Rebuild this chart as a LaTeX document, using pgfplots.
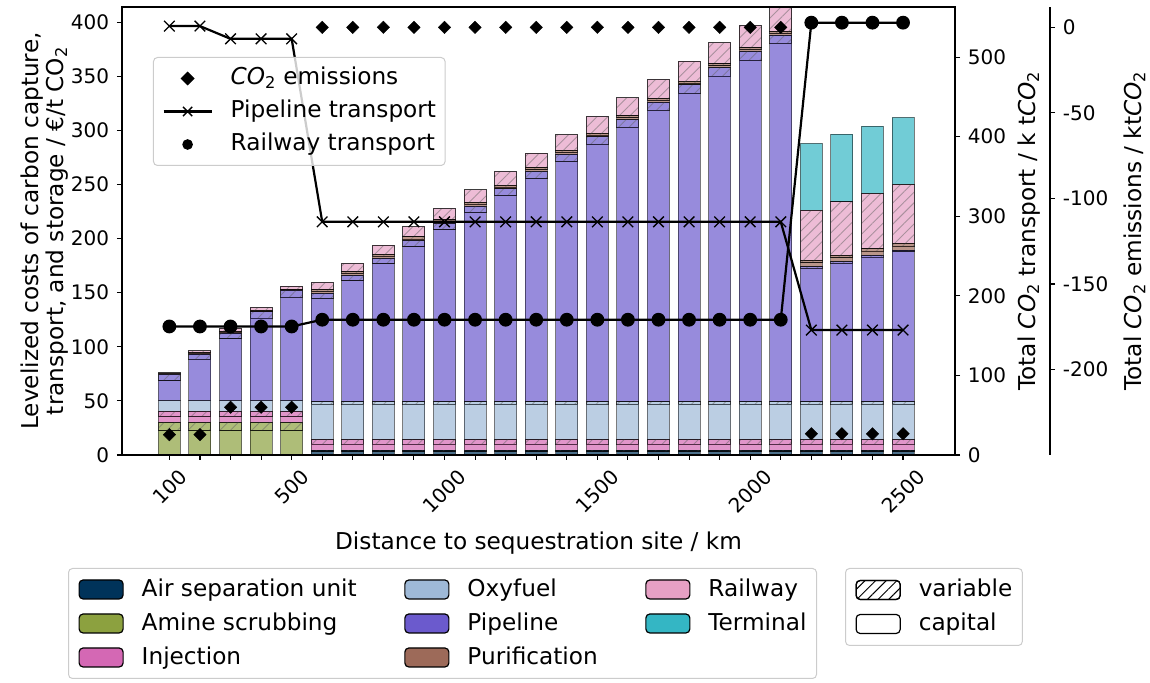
\documentclass[border=0pt]{standalone}
\usepackage{fontspec}
\setmainfont{DejaVu Sans}
\usepackage{graphicx}
\usepackage{pgfplots}
\pgfplotsset{compat=1.18}
\usepackage{pgfplotstable}
\usetikzlibrary{patterns.meta}

\definecolor{asu}{HTML}{00335A}
\definecolor{amine}{HTML}{8CA13F}
\definecolor{injection}{HTML}{D468B4}
\definecolor{oxyfuel}{HTML}{9EB9D7}
\definecolor{pipeline}{HTML}{6B5ACD}
\definecolor{purification}{HTML}{9D6A59}
\definecolor{railway}{HTML}{E6A0C4}
\definecolor{terminal}{HTML}{34B6C4}

\newcommand{\fs}{\fontsize{23.2}{25}\selectfont}
\newcommand{\ft}{\fontsize{20}{24}\selectfont}
\newcommand{\COi}{{\itshape CO}\textsubscript{2}}

\tikzset{hatch/.style={postaction={pattern={Lines[angle=45,distance=7.5pt,line width=0.9pt]},pattern color=black!60}}}

\pgfplotstableread{
x asc asv amc amv inc inv oxc oxv pic piv puc puv rav tec
100 0 0 22.4 7.8 5.2 5.2 9.3 0 18.7 5.9 0.8 0.7 0 0
200 0 0 22.4 7.8 5.2 5.2 9.3 0 38.5 4.9 0.8 0.7 1.5 0
300 0 0 22.4 7.8 5.2 5.2 9.3 0 57.5 5.3 0.8 0.7 2.8 0
400 0 0 22.4 7.8 5.2 5.2 9.3 0 76.5 5.8 0.8 0.7 2.8 0
500 0 0 22.4 7.8 5.2 5.2 9.3 0 95.8 6.4 0.5 0.5 2.9 0
600 3.0 1.5 0 0 5.5 4.5 32.6 2.0 95.5 4.9 1.5 2.0 6.5 0
700 3.0 1.5 0 0 5.5 4.5 32.6 2.0 111.8 5.1 1.5 2.0 7.5 0
800 3.0 1.5 0 0 5.5 4.5 32.6 2.0 127.5 5.4 1.5 2.0 8.5 0
900 3.0 1.5 0 0 5.5 4.5 32.6 2.0 143.3 5.6 1.5 2.0 9.5 0
1000 3.0 1.5 0 0 5.5 4.5 32.6 2.0 159.0 5.9 1.5 2.0 10.5 0
1100 3.0 1.5 0 0 5.5 4.5 32.6 2.0 174.8 6.1 1.5 2.0 11.5 0
1200 3.0 1.5 0 0 5.5 4.5 32.6 2.0 190.5 6.4 1.5 2.0 12.5 0
1300 3.0 1.5 0 0 5.5 4.5 32.6 2.0 206.3 6.6 1.5 2.0 13.5 0
1400 3.0 1.5 0 0 5.5 4.5 32.6 2.0 222.1 6.8 1.5 2.0 14.5 0
1500 3.0 1.5 0 0 5.5 4.5 32.6 2.0 237.9 7.0 1.5 2.0 15.5 0
1600 3.0 1.5 0 0 5.5 4.5 32.6 2.0 253.6 7.3 1.5 2.0 16.5 0
1700 3.0 1.5 0 0 5.5 4.5 32.6 2.0 269.4 7.5 1.5 2.0 17.5 0
1800 3.0 1.5 0 0 5.5 4.5 32.6 2.0 285.1 7.8 1.5 2.0 18.5 0
1900 3.0 1.5 0 0 5.5 4.5 32.6 2.0 300.9 8.0 1.5 2.0 19.5 0
2000 3.0 1.5 0 0 5.5 4.5 32.6 2.0 315.6 8.3 1.5 2.0 20.5 0
2100 3.0 1.5 0 0 5.5 4.5 32.6 2.0 331.2 7.7 1.5 2.0 23.5 0
2200 3.0 1.5 0 0 5.5 4.5 32.6 2.0 123.4 1.5 3.5 2.5 46.3 61.7
2300 3.0 1.5 0 0 5.5 4.5 32.6 2.0 128.0 1.5 3.5 2.5 49.4 62.5
2400 3.0 1.5 0 0 5.5 4.5 32.6 2.0 133.7 2.0 3.5 2.5 50.9 62.3
2500 3.0 1.5 0 0 5.5 4.5 32.6 2.0 138.8 1.5 3.5 3.0 54.1 62.0
}\bars

\pgfplotsset{
  every axis/.append style={font=\fs},
  myaxis/.style={
    at={(122pt,227pt)}, anchor=south west,
    height=448pt, scale only axis,
    tick align=outside, major tick length=5pt, minor tick length=5pt,
    every tick/.style={black, line width=1.1pt},
    every minor tick/.style={black, line width=1.1pt},
    axis line style={line width=1.1pt},
    tick label style={font=\ft},
    label style={font=\fs},
    /pgf/number format/assume math mode=true,
  },
}

\begin{document}
\fs
\begin{tikzpicture}
% ---------------- bars -----------------
\begin{axis}[myaxis,
  width=833pt,
  xmin=-55, xmax=2670, ymin=0, ymax=414,
  ybar stacked, bar width=72,
  axis on top,
  xtick={100,500,1000,1500,2000,2500},
  xticklabels={\rotatebox{45}{100},\rotatebox{45}{500},\rotatebox{45}{1000},\rotatebox{45}{1500},\rotatebox{45}{2000},\rotatebox{45}{2500}},
  minor xtick={200,300,400,600,700,800,900,1100,1200,1300,1400,1600,1700,1800,1900,2100,2200,2300,2400},
  ytick={0,50,...,400},
  xtick pos=left, ytick pos=left,
  xlabel={Distance to sequestration site / km},
  ylabel={Levelized costs of carbon capture,\\transport, and storage / €/t CO\textsubscript{2}},
  ylabel style={align=center},
  ylabel shift=-13pt,
  xlabel shift=2pt,
  every axis plot/.append style={draw=black, draw opacity=0.5, fill opacity=0.7, line width=1pt},
]
\addplot[fill=asu] table[x=x,y=asc]{\bars};
\addplot[fill=asu, hatch] table[x=x,y=asv]{\bars};
\addplot[fill=amine] table[x=x,y=amc]{\bars};
\addplot[fill=amine, hatch] table[x=x,y=amv]{\bars};
\addplot[fill=injection] table[x=x,y=inc]{\bars};
\addplot[fill=injection, hatch] table[x=x,y=inv]{\bars};
\addplot[fill=oxyfuel] table[x=x,y=oxc]{\bars};
\addplot[fill=oxyfuel, hatch] table[x=x,y=oxv]{\bars};
\addplot[fill=pipeline] table[x=x,y=pic]{\bars};
\addplot[fill=pipeline, hatch] table[x=x,y=piv]{\bars};
\addplot[fill=purification] table[x=x,y=puc]{\bars};
\addplot[fill=purification, hatch] table[x=x,y=puv]{\bars};
\addplot[fill=railway, hatch] table[x=x,y=rav]{\bars};
\addplot[fill=terminal] table[x=x,y=tec]{\bars};
\end{axis}

% ---------------- transport -----------------
\begin{axis}[myaxis,
  width=833pt,
  xmin=-55, xmax=2670, ymin=0, ymax=563,
  axis y line*=right, axis x line=none,
  ytick={0,100,...,500},
  ylabel={Total \COi{} transport / k t\COi},
  ylabel shift=-4pt,
]
\addplot[black, line width=2.2pt, mark=x, mark size=7.5pt, mark options={line width=1.3pt}] coordinates {
(100,539)(200,539)(300,523)(400,523)(500,523)
(600,293)(700,293)(800,293)(900,293)(1000,293)(1100,293)(1200,293)(1300,293)
(1400,293)(1500,293)(1600,293)(1700,293)(1800,293)(1900,293)(2000,293)(2100,293)
(2200,157)(2300,157)(2400,157)(2500,157)};
\addplot[black, line width=2.2pt, mark=*, mark size=5.8pt] coordinates {
(100,161.5)(200,161.5)(300,161.5)(400,161.5)(500,161.5)
(600,170)(700,170)(800,170)(900,170)(1000,170)(1100,170)(1200,170)(1300,170)
(1400,170)(1500,170)(1600,170)(1700,170)(1800,170)(1900,170)(2000,170)(2100,170)
(2200,543.3)(2300,543.3)(2400,543.3)(2500,543.3)};
\end{axis}

% ---------------- emissions -----------------
\begin{axis}[myaxis,
  width=928pt,
  xmin=-55, xmax=2980.7, ymin=-249.9, ymax=11.9,
  axis y line*=right, axis x line=none,
  ytick={-200,-150,-100,-50,0},
  yticklabels={-200,-150,-100,-50,0},
  ylabel={Total \COi{} emissions / kt\COi},
  legend cell align=left,
  legend image code/.code={\draw[mark repeat=2,mark phase=2,#1] plot coordinates {(0pt,0pt) (24pt,0pt) (48pt,0pt)};},
  legend image post style={opacity=1},
  legend style={at={(0.0334,0.8884)}, anchor=north west, draw=black!20, line width=1pt,
    rounded corners=4pt, fill=white, fill opacity=0.8, text opacity=1, draw opacity=1,
    inner xsep=9pt, inner ysep=9.4pt, row sep=9.8pt,
    nodes={inner sep=0pt, text height=0.75em, text depth=0.25em},
    /tikz/every odd column/.style={column sep=18pt}, font=\fs},
]
\addplot[only marks, black, mark=square*, mark size=4.4pt, mark options={rotate=45}] coordinates {
(100,-238)(200,-238)(300,-222)(400,-222)(500,-222)
(600,0)(700,0)(800,0)(900,0)(1000,0)(1100,0)(1200,0)(1300,0)
(1400,0)(1500,0)(1600,0)(1700,0)(1800,0)(1900,0)(2000,0)(2100,0)
(2200,-237.5)(2300,-237.5)(2400,-237.5)(2500,-237.5)};
\addlegendentry{\COi{} emissions}
\addlegendimage{black, line width=2.2pt, mark=x, mark size=6.5pt, mark options={line width=1.3pt}}
\addlegendentry{Pipeline transport}
\addlegendimage{only marks, black, mark=*, mark size=4.8pt}
\addlegendentry{Railway transport}
\end{axis}

% ---------------- category legend -----------------
\begin{axis}[myaxis, width=833pt, hide axis, xmin=0, xmax=1, ymin=0, ymax=1,
  legend columns=3,
  legend cell align=left,
  legend image code/.code={\draw[#1] (0pt,-9.5pt) rectangle (44pt,9.5pt);},
  legend style={at={(-0.0648,-0.2522)}, anchor=north west, draw=black!20, line width=1pt,
    rounded corners=4pt, fill=white,
    inner xsep=10pt, inner ysep=9.4pt, row sep=10.8pt,
    nodes={inner sep=0pt, text height=0.8em, text depth=0.2em},
    /tikz/every odd column/.style={column sep=18pt},
    /tikz/every even column/.style={column sep=47.5pt}, font=\fs},
]
\addlegendimage{fill=asu, draw=black, line width=1.2pt}
\addlegendentry{Air separation unit}
\addlegendimage{fill=oxyfuel, draw=black, line width=1.2pt}
\addlegendentry{Oxyfuel}
\addlegendimage{fill=railway, draw=black, line width=1.2pt}
\addlegendentry{Railway}
\addlegendimage{fill=amine, draw=black, line width=1.2pt}
\addlegendentry{Amine scrubbing}
\addlegendimage{fill=pipeline, draw=black, line width=1.2pt}
\addlegendentry{Pipeline}
\addlegendimage{fill=terminal, draw=black, line width=1.2pt}
\addlegendentry{Terminal}
\addlegendimage{fill=injection, draw=black, line width=1.2pt}
\addlegendentry{Injection}
\addlegendimage{fill=purification, draw=black, line width=1.2pt}
\addlegendentry{Purification}
\end{axis}

% ---------------- variable / capital legend -----------------
\begin{axis}[myaxis, width=833pt, hide axis, xmin=0, xmax=1, ymin=0, ymax=1,
  legend cell align=left,
  legend image code/.code={\draw[#1] (0pt,-9.5pt) rectangle (44pt,9.5pt);},
  legend style={at={(0.868,-0.2522)}, anchor=north west, draw=black!20, line width=1pt,
    rounded corners=4pt, fill=white,
    inner xsep=10pt, inner ysep=9.9pt, row sep=10.8pt,
    nodes={inner sep=0pt, text height=0.8em, text depth=0.2em},
    /tikz/every odd column/.style={column sep=18pt}, font=\fs},
]
\addlegendimage{fill=white, draw=black, line width=1.2pt, postaction={pattern={Lines[angle=45,distance=7.5pt,line width=1pt]}, pattern color=black}}
\addlegendentry{variable}
\addlegendimage{fill=white, draw=black, line width=1.2pt}
\addlegendentry{capital}
\end{axis}

\pgfresetboundingbox
\path (0,0) rectangle (1150pt,682pt);
\end{tikzpicture}
\end{document}
